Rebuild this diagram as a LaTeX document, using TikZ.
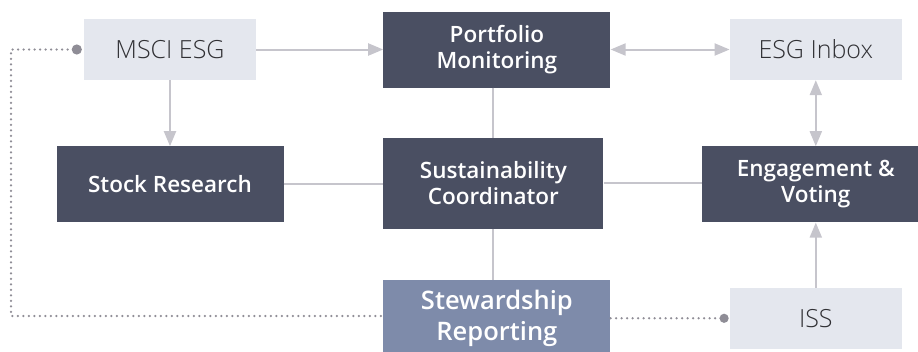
\documentclass[tikz,border=0pt]{standalone}
\usepackage{fontspec}
\setmainfont{Open Sans}
\newfontfamily\lightfont{Open Sans Light}
\IfFontExistsTF{Open Sans Semibold}{\newfontfamily\semifont{Open Sans Semibold}}{%
  \IfFontExistsTF{Open Sans SemiBold}{\newfontfamily\semifont{Open Sans SemiBold}}{%
    \newfontfamily\semifont{Open Sans}[UprightFont=*-Bold]\def\semifont{\bfseries}}}
\usetikzlibrary{positioning, arrows.meta}
\definecolor{boxdark}{HTML}{4A4F62}
\definecolor{boxlight}{HTML}{E4E7EE}
\definecolor{boxreport}{HTML}{7E8BAA}
\definecolor{linegray}{HTML}{C6C5CC}
\definecolor{dotgray}{HTML}{8F8D96}
\definecolor{textdark}{HTML}{303034}

\begin{document}
\begin{tikzpicture}[x=1pt, y=-1pt,
lightnode/.style={rectangle, fill=boxlight, text=textdark, minimum width=172pt, minimum height=61pt, inner sep=0pt, font=\lightfont\fontsize{25}{29}\selectfont},
darknode/.style={rectangle, fill=boxdark, text=white, minimum width=227pt, minimum height=76pt, inner sep=0pt, align=center, font=\semifont\fontsize{22.5}{26}\selectfont},
reportnode/.style={darknode, fill=boxreport, font=\semifont\fontsize{25.5}{31}\selectfont},
flow/.style={draw=linegray, line width=2pt, -{Triangle[length=15pt, width=12pt]}},
twoway/.style={draw=linegray, line width=2pt, {Triangle[length=15pt, width=12pt]}-{Triangle[length=15pt, width=12pt]}},
link/.style={draw=linegray, line width=2pt},
dotline/.style={draw=dotgray, line width=2.5pt, line cap=round, dash pattern=on 0pt off 5.5pt},
]
\clip (0,0) rectangle (918,351);

%Nodes
\node[lightnode]   (msci)      at (170,49.5)                      {MSCI ESG};
\node[darknode]    (portfolio) [right=127pt of msci]              {Portfolio\\Monitoring};
\node[lightnode]   (inbox)     [right=119pt of portfolio]         {ESG Inbox};
\node[darknode]    (stock)     [below=66pt of msci]               {Stock Research};
\node[darknode, minimum width=220pt, minimum height=91pt] (coord) [below=50pt of portfolio, xshift=-3.5pt] {Sustainability\\Coordinator};
\node[darknode]    (engage)    [below=66pt of inbox]              {Engagement \&\\Voting};
\node[reportnode]  (steward)   [below=51pt of coord, xshift=3.5pt] {Stewardship\\Reporting};
\node[lightnode]   (iss)       [below=65pt of engage]             {ISS};
\coordinate (dotcorner) at (11,316);

%Lines
\draw[flow] (msci.east) -- (portfolio.west);
\draw[flow] (msci.south) -- (stock.north);
\draw[twoway] (portfolio.east) -- (inbox.west);
\draw[link] (portfolio.south -| coord.north) -- (coord.north);
\draw[link] (stock.east) -- (stock.east -| coord.west);
\draw[link] (coord.east) -- (coord.east -| engage.west);
\draw[twoway] (inbox.south) -- (engage.north);
\draw[flow] (iss.north) -- (engage.south);
\draw[link] (coord.south) -- (coord.south |- steward.north);
\draw[dotline, {Circle[length=10pt]}-, shorten <=2pt] (msci.west) -| (dotcorner) -- (dotcorner -| steward.west);
\draw[dotline, -{Circle[length=9pt]}, shorten >=1pt] (steward.east |- iss.west) -- (iss.west);
\end{tikzpicture}
\end{document}
